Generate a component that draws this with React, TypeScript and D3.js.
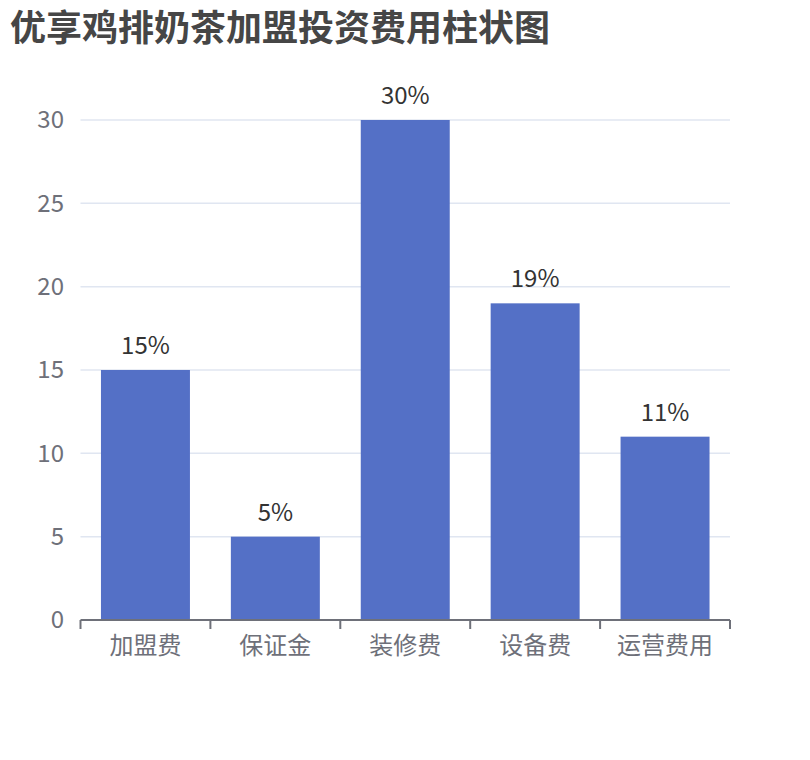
import React, { useEffect, useRef } from 'react';
import * as d3 from 'd3';

const title = '优享鸡排奶茶加盟投资费用柱状图';
const categories = ['加盟费', '保证金', '装修费', '设备费', '运营费用'];
const values = [15, 5, 30, 19, 11];
const yTicks = [0, 5, 10, 15, 20, 25, 30];

const W = 810;
const H = 760;
const FONT = '"Noto Sans CJK SC", "Noto Sans", sans-serif';

export default function App() {
  const svgRef = useRef<SVGSVGElement>(null);

  useEffect(() => {
    if (!svgRef.current) return;
    const svg = d3.select(svgRef.current);
    svg.selectAll('*').remove();

    const left = 80.5;
    const right = 730;
    const top = 120;
    const bottom = 620;

    const x = d3.scaleBand<string>().domain(categories).range([left, right]).padding(0);
    const y = d3.scaleLinear().domain([0, 30]).range([bottom, top]);

    // title
    svg.append('text')
      .attr('x', 10)
      .attr('y', 41)
      .attr('font-family', FONT)
      .attr('font-size', 36)
      .attr('font-weight', 'bold')
      .attr('fill', '#464646')
      .text(title);

    // grid lines
    svg.append('g')
      .selectAll('line')
      .data(yTicks.filter(t => t > 0))
      .join('line')
      .attr('x1', left)
      .attr('x2', right)
      .attr('y1', d => y(d))
      .attr('y2', d => y(d))
      .attr('stroke', '#E0E6F1')
      .attr('stroke-width', 1.5);

    // y tick labels
    svg.append('g')
      .selectAll('text')
      .data(yTicks)
      .join('text')
      .attr('x', 64)
      .attr('y', d => y(d))
      .attr('dy', '0.35em')
      .attr('text-anchor', 'end')
      .attr('font-family', FONT)
      .attr('font-size', 24)
      .attr('fill', '#6E7079')
      .text(d => d);

    // bars
    const barW = x.bandwidth() * 0.685;
    svg.append('g')
      .selectAll('rect')
      .data(values)
      .join('rect')
      .attr('x', (d, i) => x(categories[i])! + (x.bandwidth() - barW) / 2)
      .attr('y', d => y(d))
      .attr('width', barW)
      .attr('height', d => y(0) - y(d))
      .attr('fill', '#5470C6');

    // value labels
    svg.append('g')
      .selectAll('text')
      .data(values)
      .join('text')
      .attr('x', (d, i) => x(categories[i])! + x.bandwidth() / 2)
      .attr('y', d => y(d) - 16)
      .attr('text-anchor', 'middle')
      .attr('font-family', FONT)
      .attr('font-size', 24)
      .attr('fill', '#333333')
      .text(d => `${d}%`);

    // x axis line and ticks
    const axis = svg.append('g');
    axis.append('line')
      .attr('x1', left)
      .attr('x2', right)
      .attr('y1', bottom)
      .attr('y2', bottom)
      .attr('stroke', '#6E7079')
      .attr('stroke-width', 2);
    const tickXs = categories.map(c => x(c)!).concat([right]);
    axis.selectAll('line.tick')
      .data(tickXs)
      .join('line')
      .attr('class', 'tick')
      .attr('x1', d => d)
      .attr('x2', d => d)
      .attr('y1', bottom)
      .attr('y2', bottom + 9)
      .attr('stroke', '#6E7079')
      .attr('stroke-width', 2);

    axis.selectAll('text')
      .data(categories)
      .join('text')
      .attr('x', d => x(d)! + x.bandwidth() / 2)
      .attr('y', bottom + 34)
      .attr('text-anchor', 'middle')
      .attr('font-family', FONT)
      .attr('font-size', 24)
      .attr('fill', '#6E7079')
      .text(d => d);
  }, []);

  return (
    <svg
      ref={svgRef}
      width={W}
      height={H}
      style={{ position: 'absolute', left: 0, top: 0, background: '#fff', display: 'block' }}
    />
  );
}
